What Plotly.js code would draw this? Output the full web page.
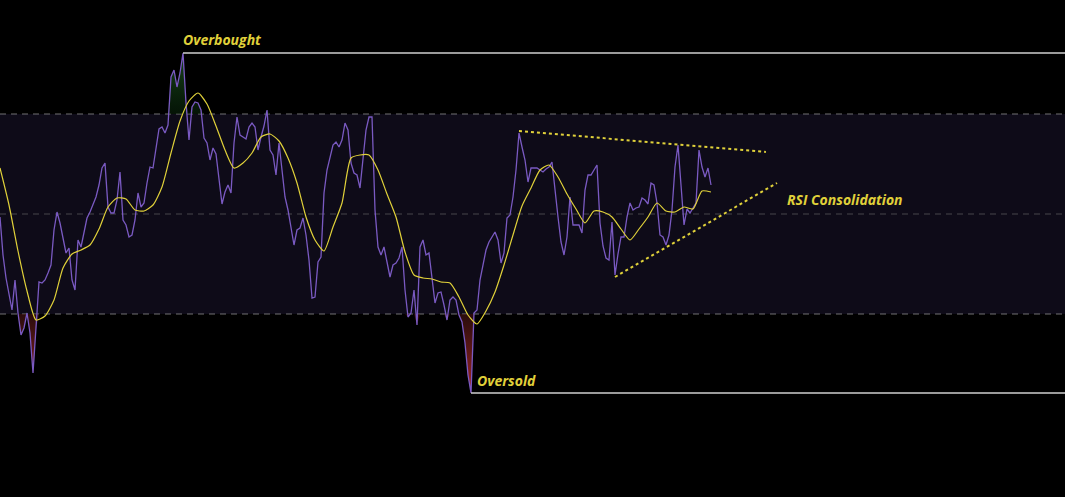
<!DOCTYPE html>
<html><head><meta charset="utf-8">
<script src="https://cdn.plot.ly/plotly-3.0.1.min.js"></script>
<style>html,body{margin:0;padding:0;background:#000;overflow:hidden}#chart{width:1065px;height:497px}</style>
</head><body><div id="chart"></div>
<script>
// RSI readings, one per bar
const rsiValues = [
49.4,41.8,37.2,34.2,30.8,36.8,30.2,25.8,27.2,30.2,26.2,18.2,26.8,36.4,36.2,36.8,38.2,39.8,46.8,50.4,
48.2,44.8,42.2,43.2,36.8,34.8,44.8,43.4,46.2,49.2,50.4,51.8,53.4,55.8,59.2,60.2,51.4,50.2,50.2,52.8,
58.4,48.8,47.8,45.4,45.8,48.8,54.2,51.4,52.2,56.2,59.4,59.2,63.4,67.0,67.4,66.2,67.8,77.4,78.8,75.4,
78.2,82.2,72.2,64.8,71.4,72.4,72.2,70.8,65.2,64.2,60.8,63.2,62.0,57.4,52.0,54.4,55.8,54.2,64.2,69.4,
65.8,65.4,65.0,67.4,68.2,67.4,62.8,65.4,67.6,70.8,62.8,61.8,57.8,64.2,59.4,53.4,50.8,47.4,43.8,46.8,
47.2,49.2,45.8,40.8,33.2,33.4,40.4,41.4,54.2,58.8,61.2,63.8,64.4,63.4,64.8,68.2,66.8,60.2,58.2,57.8,
55.2,60.4,66.8,69.4,69.4,50.8,43.4,41.8,43.4,40.4,37.4,39.8,40.2,41.2,43.4,34.8,29.4,30.2,34.8,27.8,
43.4,44.8,41.8,42.2,37.4,32.2,34.2,34.4,31.8,28.8,32.8,33.4,32.8,29.8,28.4,24.2,17.8,14.2,30.2,30.8,
36.8,40.2,42.8,44.4,45.4,46.4,44.8,40.2,42.2,49.2,49.8,53.4,58.8,66.2,63.4,60.8,56.4,59.2,59.2,59.2,
58.8,58.4,59.0,59.4,60.4,54.2,49.4,44.4,41.8,45.4,53.4,47.8,47.8,47.8,46.2,54.8,57.8,57.8,58.8,59.8,
48.2,43.6,41.2,40.8,48.4,37.8,42.0,45.4,45.4,49.4,52.2,50.8,51.2,51.4,53.2,52.8,52.0,56.2,55.8,52.2,
45.8,45.4,43.8,45.8,50.8,59.4,63.8,54.8,47.8,51.0,50.2,51.2,52.2,62.8,59.4,57.4,59.2,55.8
];
// RSI moving average, one reading every third bar
const maValues = [
59.2,51.8,42.6,34.6,28.8,29.6,32.8,39.2,42.0,42.8,43.8,47.0,51.4,53.2,53.0,50.8,50.6,51.8,55.4,62.2,
68.6,72.6,74.2,72.0,67.6,62.8,59.2,60.2,62.2,65.4,66.0,64.6,61.2,56.2,49.4,44.8,42.6,47.4,52.2,61.2,
61.8,61.8,58.8,54.0,49.4,42.4,37.8,37.2,37.0,36.4,36.2,33.4,29.8,28.0,30.6,34.4,39.8,45.8,51.6,55.2,
58.8,59.8,57.4,54.0,51.0,48.2,50.6,50.4,49.4,47.0,44.8,47.0,49.4,52.2,50.6,50.4,51.4,51.0,54.6,54.4
];
const maStep = 3;
// levels: overbought, middle, oversold
const levelValues = [70, 50, 30];
// consolidation trendlines (bar, RSI)
const upperTrendX = [173, 255.3];
const upperTrendY = [66.6, 62.4];
const lowerTrendX = [205, 259];
const lowerTrendY = [37.4, 56.2];
const labelTexts = ['Overbought', 'Oversold', 'RSI Consolidation'];
const consolidationLabel = [262.3, 53.0];

const bars = rsiValues.map((_, i) => i);
const maBars = maValues.map((_, k) => k * maStep);
const xMax = 355;
const yRange = [-6.6, 92.8];

const ob = levelValues[0], mid = levelValues[1], os = levelValues[2];
const maxV = Math.max(...rsiValues), minV = Math.min(...rsiValues);
const maxI = rsiValues.indexOf(maxV), minI = rsiValues.indexOf(minV);

const yellow = '#e0d13a';
const traces = [
  {x: bars, y: bars.map(() => ob), mode: 'lines', line: {width: 0, color: 'rgba(0,0,0,0)'}, hoverinfo: 'skip', showlegend: false},
  {x: bars, y: rsiValues.map(v => Math.max(v, ob)), mode: 'lines', line: {width: 0, color: 'rgba(0,0,0,0)'},
   fill: 'tonexty', fillcolor: 'rgba(20,70,25,0.55)',
   fillgradient: {type: 'vertical', colorscale: [[0, 'rgba(10,40,12,0.5)'], [1, 'rgba(30,90,35,0.8)']]},
   hoverinfo: 'skip', showlegend: false},
  {x: bars, y: bars.map(() => os), mode: 'lines', line: {width: 0, color: 'rgba(0,0,0,0)'}, hoverinfo: 'skip', showlegend: false},
  {x: bars, y: rsiValues.map(v => Math.min(v, os)), mode: 'lines', line: {width: 0, color: 'rgba(0,0,0,0)'},
   fill: 'tonexty', fillcolor: 'rgba(120,30,30,0.6)',
   fillgradient: {type: 'vertical', colorscale: [[0, 'rgba(190,45,40,0.9)'], [1, 'rgba(70,20,20,0.6)']]},
   hoverinfo: 'skip', showlegend: false},
  {x: bars, y: rsiValues, mode: 'lines', line: {color: '#7a5ac2', width: 1.3}, showlegend: false},
  {x: maBars, y: maValues, mode: 'lines', line: {color: yellow, width: 1.2, shape: 'spline', smoothing: 0.6}, showlegend: false},
  {x: upperTrendX, y: upperTrendY, mode: 'lines', line: {color: yellow, width: 2, dash: 'dot'}, showlegend: false},
  {x: lowerTrendX, y: lowerTrendY, mode: 'lines', line: {color: yellow, width: 2, dash: 'dot'}, showlegend: false}
];

const shapes = [
  {type: 'rect', xref: 'x', yref: 'y', x0: 0, x1: xMax, y0: os, y1: ob, fillcolor: '#0e0b18', line: {width: 0}, layer: 'below'},
  {type: 'line', xref: 'x', yref: 'y', x0: 0, x1: xMax, y0: ob, y1: ob, line: {color: 'rgba(150,150,150,0.75)', width: 1, dash: '6px,5px'}, layer: 'below'},
  {type: 'line', xref: 'x', yref: 'y', x0: 0, x1: xMax, y0: mid, y1: mid, line: {color: 'rgba(110,110,110,0.6)', width: 1, dash: '6px,5px'}, layer: 'below'},
  {type: 'line', xref: 'x', yref: 'y', x0: 0, x1: xMax, y0: os, y1: os, line: {color: 'rgba(150,150,150,0.75)', width: 1, dash: '6px,5px'}, layer: 'below'},
  {type: 'line', xref: 'x', yref: 'y', x0: maxI, x1: xMax, y0: maxV, y1: maxV, line: {color: '#cfcfcf', width: 1.5}},
  {type: 'line', xref: 'x', yref: 'y', x0: minI, x1: xMax, y0: minV, y1: minV, line: {color: '#cfcfcf', width: 1.5}}
];

const labelFont = {family: 'Open Sans, Liberation Sans, sans-serif', size: 14, color: yellow, weight: 'bold', style: 'italic'};
const annotations = [
  {x: maxI, y: maxV, xref: 'x', yref: 'y', text: '<b><i>' + labelTexts[0] + '</i></b>', showarrow: false, xanchor: 'left', yanchor: 'bottom', xshift: -2, yshift: 2, font: labelFont},
  {x: minI, y: minV, xref: 'x', yref: 'y', text: '<b><i>' + labelTexts[1] + '</i></b>', showarrow: false, xanchor: 'left', yanchor: 'bottom', xshift: 4, yshift: 1, font: labelFont},
  {x: consolidationLabel[0], y: consolidationLabel[1], xref: 'x', yref: 'y', text: '<b><i>' + labelTexts[2] + '</i></b>', showarrow: false, xanchor: 'left', yanchor: 'middle', xshift: -2, font: labelFont}
];

const layout = {
  width: 1065, height: 497,
  margin: {l: 0, r: 0, t: 0, b: 0, pad: 0},
  paper_bgcolor: '#000', plot_bgcolor: '#000',
  showlegend: false,
  xaxis: {range: [0, xMax], visible: false, showgrid: false, zeroline: false, fixedrange: true},
  yaxis: {range: yRange, visible: false, showgrid: false, zeroline: false, fixedrange: true},
  shapes: shapes,
  annotations: annotations
};

Plotly.newPlot('chart', traces, layout, {displayModeBar: false, staticPlot: true});
</script>
</body></html>
